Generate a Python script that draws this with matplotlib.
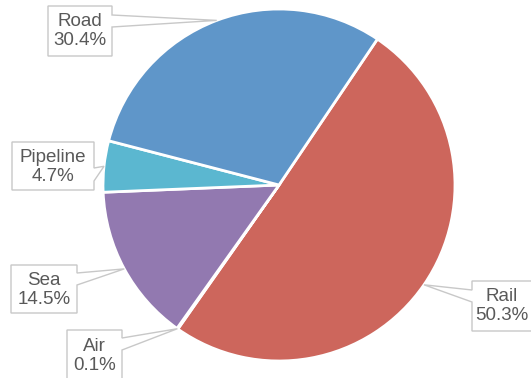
import numpy as np
import matplotlib.pyplot as plt
from matplotlib.patches import Polygon

# freight share by transport mode
modes = ['Rail', 'Air', 'Sea', 'Pipeline', 'Road']
shares = [50.3, 0.1, 14.5, 4.7, 30.4]
colors = ['#CD665C', '#F59D56', '#9279B0', '#5BB7D0', '#5F96C9']

# callout boxes in pixels: (left, top, right, bottom, side, wedge_y0, wedge_y1)
boxes = {
    'Road': (48, 6, 112, 56, 'right', 15, 27),
    'Pipeline': (12, 142, 94, 190, 'right', 168, 181),
    'Sea': (11, 265, 77, 313, 'right', 273, 285),
    'Air': (67, 330, 122, 385, 'right', 338, 350),
    'Rail': (472, 281, 535, 331, 'left', 290, 302),
}

W, H = 531, 378
cx, cy, R = 279, 185, 176

plt.rcParams['font.family'] = ['Liberation Sans', 'DejaVu Sans']
fig = plt.figure(figsize=(W / 100, H / 100), dpi=100)
ax = fig.add_axes([0, 0, 1, 1])


def px(x, y):
    return (x - cx) / R, (cy - y) / R


wedges, _ = ax.pie(shares, colors=colors, startangle=56, counterclock=False,
                   radius=1, wedgeprops=dict(edgecolor='white', linewidth=2))
ax.set_xlim(-cx / R, (W - cx) / R)
ax.set_ylim(-(H - cy) / R, cy / R)
ax.set_aspect('equal')
ax.axis('off')

for w, name, val in zip(wedges, modes, shares):
    mid = np.deg2rad((w.theta1 + w.theta2) / 2)
    tip = (np.cos(mid), np.sin(mid))
    x0, y0, x1, y1, side, wy0, wy1 = boxes[name]
    if side == 'right':
        pts = [px(x0, y0), px(x1, y0), px(x1, wy0), tip, px(x1, wy1),
               px(x1, y1), px(x0, y1)]
    else:
        pts = [px(x0, y0), px(x1, y0), px(x1, y1), px(x0, y1),
               px(x0, wy1), tip, px(x0, wy0)]
    ax.add_patch(Polygon(pts, closed=True, facecolor='white',
                         edgecolor='#C8C8C8', linewidth=1, zorder=5))
    tx, ty = px((x0 + min(x1, W)) / 2, y0 + 25 if name != 'Air' else y0 + 26)
    ax.text(tx, ty, f'{name}\n{val}%', ha='center', va='center',
            fontsize=13.5, color='#595959', linespacing=1.2, zorder=6)

fig.savefig('out.png', dpi=100)
